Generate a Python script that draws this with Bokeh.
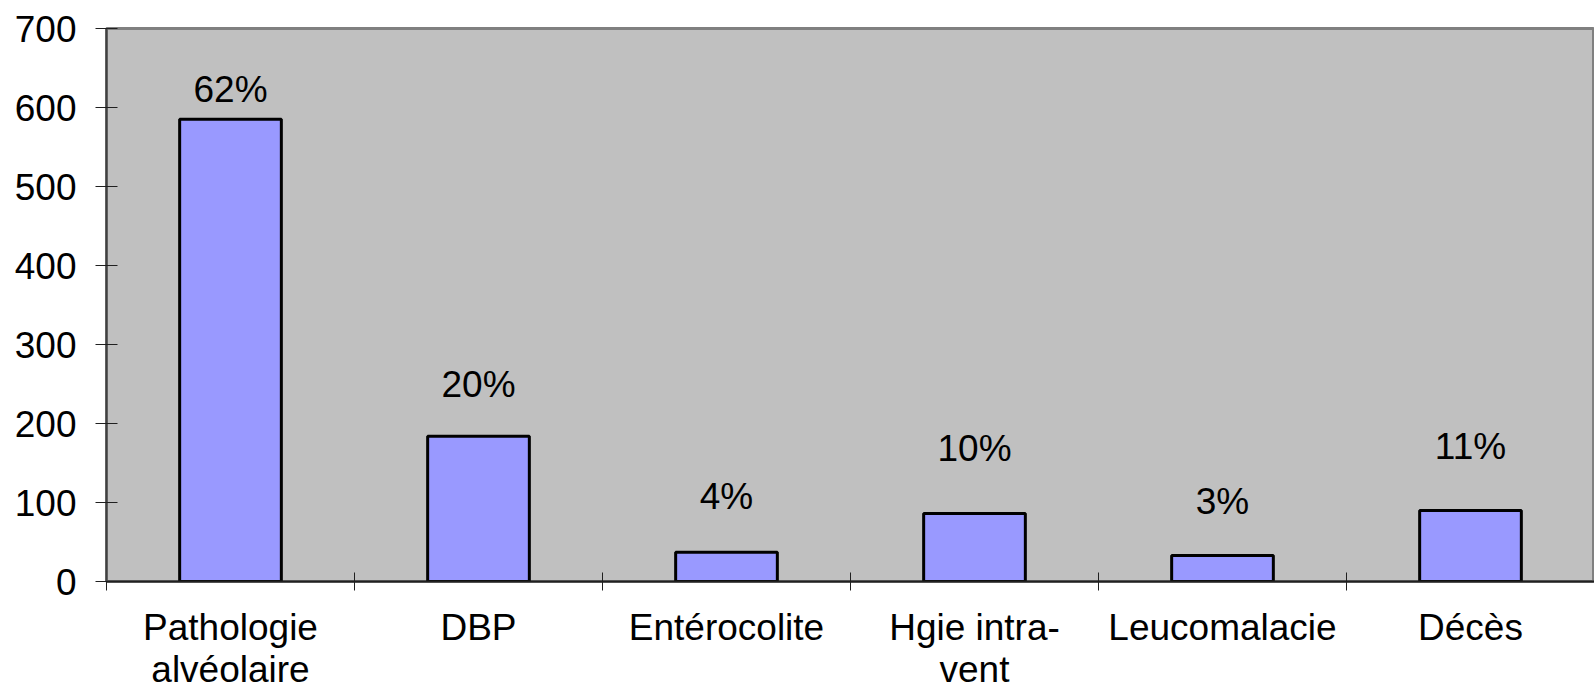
from bokeh.plotting import figure
from bokeh.models import FixedTicker, Range1d, ColumnDataSource
from bokeh.embed import file_html
from bokeh.resources import INLINE
from bokeh.core.properties import value

categories = ["Pathologie\nalvéolaire", "DBP", "Entérocolite", "Hgie intra-\nvent", "Leucomalacie", "Décès"]
counts = [585, 184, 37, 86, 33, 90]
pct_labels = ["62%", "20%", "4%", "10%", "3%", "11%"]
pct_label_y = [623, 249, 108, 168, 101, 171]
y_ticks = [0, 100, 200, 300, 400, 500, 600, 700]

n = len(categories)
xc = [i + 0.5 for i in range(n)]

FONT = "Liberation Sans"
FS = "37px"

p = figure(width=1594, height=694, output_backend="svg", toolbar_location=None,
           x_range=Range1d(0, n), y_range=Range1d(0, 700),
           min_border_left=106, min_border_right=0, min_border_top=28, min_border_bottom=113)

p.background_fill_color = "#C0C0C0"
p.border_fill_color = "white"
p.outline_line_color = "#808080"
p.outline_line_width = 3
p.xgrid.grid_line_color = None
p.ygrid.grid_line_color = None

src = ColumnDataSource(dict(x=xc, top=counts, ly=pct_label_y, lab=pct_labels))
p.vbar(x="x", top="top", width=0.41, bottom=0, source=src,
       fill_color="#9999FF", line_color="black", line_width=3)
p.text(x="x", y="ly", text="lab", source=src, text_align="center", text_baseline="middle",
       text_font=value(FONT), text_font_size=FS, text_color="black")

# x axis
xa = p.xaxis[0]
xa.ticker = FixedTicker(ticks=xc, minor_ticks=list(range(n + 1)))
xa.major_label_overrides = {x: c for x, c in zip(xc, categories)}
xa.major_tick_in = 0
xa.major_tick_out = 0
xa.minor_tick_in = 9
xa.minor_tick_out = 9
xa.minor_tick_line_color = "#202020"
xa.minor_tick_line_width = 1
xa.axis_line_color = "#202020"
xa.axis_line_width = 2
xa.major_label_text_font = FONT
xa.major_label_text_font_size = FS
xa.major_label_text_color = "black"
xa.major_label_standoff = 16
xa.major_label_text_line_height = 1.03

# y axis
ya = p.yaxis[0]
ya.ticker = FixedTicker(ticks=y_ticks)
ya.major_tick_in = 11
ya.major_tick_out = 11
ya.minor_tick_line_color = None
ya.major_tick_line_color = "#202020"
ya.axis_line_color = "#404040"
ya.axis_line_width = 2
ya.major_label_text_font = FONT
ya.major_label_text_font_size = FS
ya.major_label_text_color = "black"
ya.major_label_standoff = 19

open("out.html", "w").write(file_html(p, INLINE))
